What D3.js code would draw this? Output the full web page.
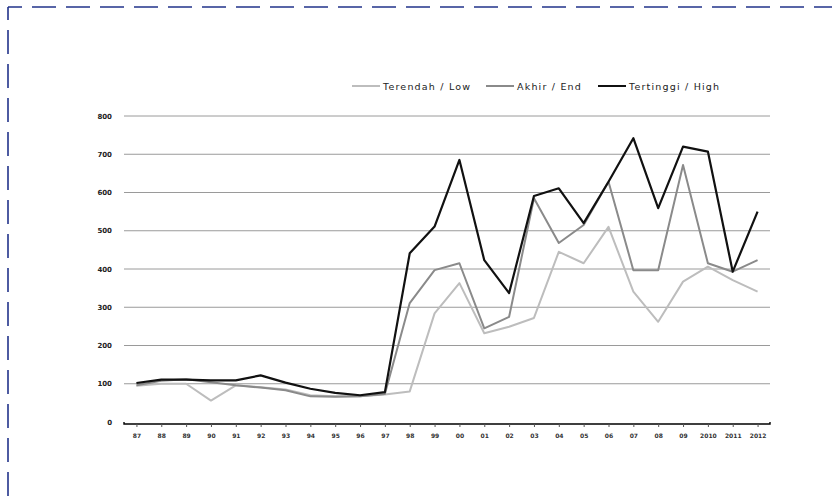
<!DOCTYPE html>
<html><head><meta charset="utf-8">
<script src="https://cdn.jsdelivr.net/npm/d3@7"></script>
<style>html,body{margin:0;padding:0;background:#fff;overflow:hidden}</style>
</head><body><svg id="c" width="832" height="504"></svg>
<script>
const categories = ["87","88","89","90","91","92","93","94","95","96","97","98","99","00","01","02","03","04","05","06","07","08","09","2010","2011","2012"];
const lowValues  = [95,100,100,56,96,91,85,70,67,67,72,80,284,363,232,249,272,445,415,510,341,262,367,406,371,341];
const endValues  = [96,108,112,104,96,90,83,67,66,67,73,311,397,415,245,275,585,468,515,628,397,397,672,415,393,423];
const highValues = [102,111,111,109,109,122,103,87,76,70,78,441,511,685,423,337,591,611,520,628,742,559,720,707,393,550];
const yTicks = [0,100,200,300,400,500,600,700,800];
const seriesNames = ["Terendah / Low","Akhir / End","Tertinggi / High"];
const seriesColors = ["#bdbdbd","#8a8a8a","#111111"];

(function(){
const svg = d3.select("#c");
// dashed border (top and left edges visible)
const bc = "#22338a";
svg.append("line").attr("x1",8).attr("y1",7).attr("x2",840).attr("y2",7)
  .attr("stroke",bc).attr("stroke-width",1.6).attr("stroke-dasharray","24,10").attr("stroke-dashoffset",10);
svg.append("line").attr("x1",8).attr("y1",7).attr("x2",8).attr("y2",510)
  .attr("stroke",bc).attr("stroke-width",1.6).attr("stroke-dasharray","24,10").attr("stroke-dashoffset",11);

const pL=124, pR=770, pT=116, pB=422;
const x = d3.scalePoint().domain(categories).range([pL,pR]).padding(0.5);
const y = d3.scaleLinear().domain([0,800]).range([pB,pT]);

// gridlines
svg.append("g").selectAll("line").data(yTicks.filter(d=>d>0)).join("line")
  .attr("x1",pL).attr("x2",pR).attr("y1",d=>y(d)).attr("y2",d=>y(d))
  .attr("stroke","#9a9a9a").attr("stroke-width",1);

// y labels
svg.append("g").selectAll("text").data(yTicks).join("text")
  .attr("x",112).attr("y",d=>y(d)+2.5).attr("text-anchor","end")
  .attr("font-family","DejaVu Sans").attr("font-size",7).attr("font-weight","bold")
  .attr("fill","#222").text(d=>d);

// x axis
const xAxis = d3.axisBottom(x).tickSize(3).tickPadding(7);
const gx = svg.append("g").attr("transform",`translate(0,${pB+2})`).call(xAxis);
gx.select(".domain").attr("stroke","#000").attr("stroke-width",1.4).attr("d",`M${pL},-2V0H${pR}V-2`);
gx.selectAll(".tick line").attr("stroke","#555");
gx.selectAll("text").attr("font-family","DejaVu Sans").attr("font-size",6).attr("font-weight","bold").attr("fill","#333");

// lines
const line = d3.line().x((d,i)=>x(categories[i])).y(d=>y(d));
[lowValues,endValues,highValues].forEach((vals,k)=>{
  svg.append("path").datum(vals).attr("d",line).attr("fill","none")
    .attr("stroke",seriesColors[k]).attr("stroke-width",k===2?2.2:2)
    .attr("stroke-linejoin","round");
});

// legend
const legendX = [352,486,598];
const lg = svg.append("g");
seriesNames.forEach((n,k)=>{
  lg.append("line").attr("x1",legendX[k]).attr("x2",legendX[k]+28).attr("y1",86).attr("y2",86)
    .attr("stroke",seriesColors[k]).attr("stroke-width",2);
  lg.append("text").attr("x",legendX[k]+31).attr("y",89.5).attr("font-family","DejaVu Sans")
    .attr("font-size",9.5).attr("letter-spacing",1.2).attr("fill","#222").text(n);
});
})();
</script></body></html>
